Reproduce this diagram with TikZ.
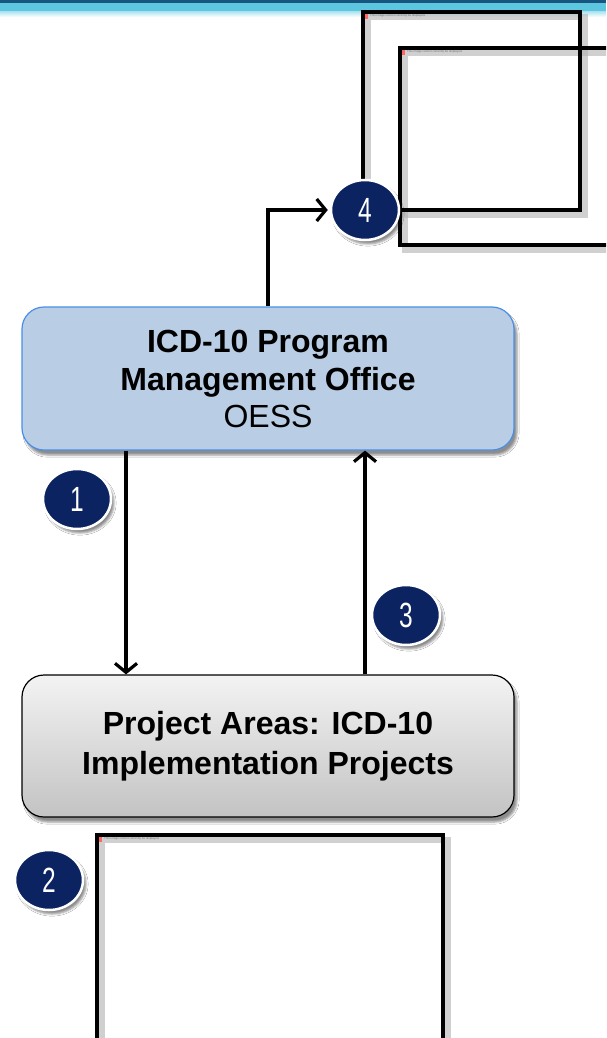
\documentclass[tikz,border=0pt]{standalone}
\usepackage{fontspec}
\setmainfont{Liberation Sans}
\newfontfamily\numfont[FakeStretch=0.7]{Liberation Sans}
\usetikzlibrary{shapes.geometric,shadows.blur,arrows.meta}
\definecolor{navy}{HTML}{0B2360}
\definecolor{pmofill}{HTML}{B9CDE5}
\definecolor{pmoedge}{HTML}{4A8FE7}
\definecolor{bandcyan}{HTML}{5CC7DF}
\definecolor{banddark}{HTML}{17577F}
\definecolor{boxtop}{HTML}{F3F3F3}
\definecolor{boxbot}{HTML}{C3C3C3}
\tikzset{
  pmobox/.style={draw=pmoedge, line width=1.2pt, fill=pmofill, rounded corners=22pt,
    minimum width=492pt, minimum height=143pt, align=center, boxfont,
    blur shadow={shadow xshift=3pt, shadow yshift=-5pt, shadow opacity=45}},
  projbox/.style={draw=black, line width=1.2pt, top color=boxtop, bottom color=boxbot,
    rounded corners=22pt, minimum width=492pt, minimum height=142pt, align=center,
    font=\bfseries\fontsize{32}{40}\selectfont,
    blur shadow={shadow xshift=3pt, shadow yshift=-5pt, shadow opacity=45}},
  stepnum/.style={ellipse, fill=navy, draw=white, line width=2.5pt,
    minimum width=68pt, minimum height=60pt, inner sep=0pt, text=white,
    font=\numfont\fontsize{35}{35}\selectfont,
    blur shadow={shadow xshift=3pt, shadow yshift=-4pt, shadow opacity=45}},
  frame/.style={draw=black, line width=4pt, inner sep=0pt},
  frameshade/.style={draw=black!30, line width=6pt, opacity=0.6},
  flow/.style={draw=black, line width=3.2pt, -{Straight Barb[length=9pt,width=22pt,line width=3.2pt]}},
  msg/.style={font=\fontsize{3}{4}\selectfont, text=black!55, anchor=north west, inner sep=0pt},
  boxfont/.style={font=\bfseries\fontsize{32}{38.5}\selectfont}
}

\begin{document}
\begin{tikzpicture}[x=1pt, y=-1pt]
\useasboundingbox (0,0) rectangle (606,1038);
\clip (0,0) rectangle (606,1038);
\fill[white] (0,0) rectangle (606,1038);

% title band
\fill[banddark] (0,0) rectangle (606,3);
\fill[bandcyan] (0,3) rectangle (606,12);
\shade[top color=bandcyan!45, bottom color=white] (0,12) rectangle (606,17);

% picture frames (broken images)
\draw[frameshade] (368,17) rectangle (585,215);
\draw[frameshade] (405,53) rectangle (620,250);
\draw[frameshade] (102,840) rectangle (448,1050);
\node[frame, minimum width=217pt, minimum height=198pt] (imgA) at (471.5,111) {};
\node[frame, minimum width=216pt, minimum height=197pt] (imgB) at (508,146.5) {};
\node[frame, minimum width=346pt, minimum height=215pt] (imgC) at (270,942.5) {};
\foreach \f in {imgA,imgB,imgC}{
  \fill[red!60] ([xshift=4pt,yshift=-4pt]\f.north west) rectangle ++(3,5);
  \node[msg] at ([xshift=9pt,yshift=-4pt]\f.north west) {This image cannot currently be displayed.};
}

% main boxes
\node[pmobox] (pmo) at (268,378.5) {ICD-10 Program\\Management Office\\[-2pt]\mdseries OESS};
\node[projbox] (proj) at (268,746) {Project Areas: ICD-10\\Implementation Projects};

% step markers
\node[stepnum] (s4) at (365,210) {4};
\node[stepnum] (s1) at (77,499) {1};
\node[stepnum] (s3) at (406,615) {3};
\node[stepnum] (s2) at (49,880) {2};

% flows
\draw[flow] ([xshift=-142pt]pmo.south) -- ([xshift=-142pt]proj.north);
\draw[flow] ([xshift=97pt]proj.north) -- ([xshift=97pt]pmo.south);
\draw[flow] (pmo.north) |- ([xshift=-2pt]s4.west);
\end{tikzpicture}
\end{document}
